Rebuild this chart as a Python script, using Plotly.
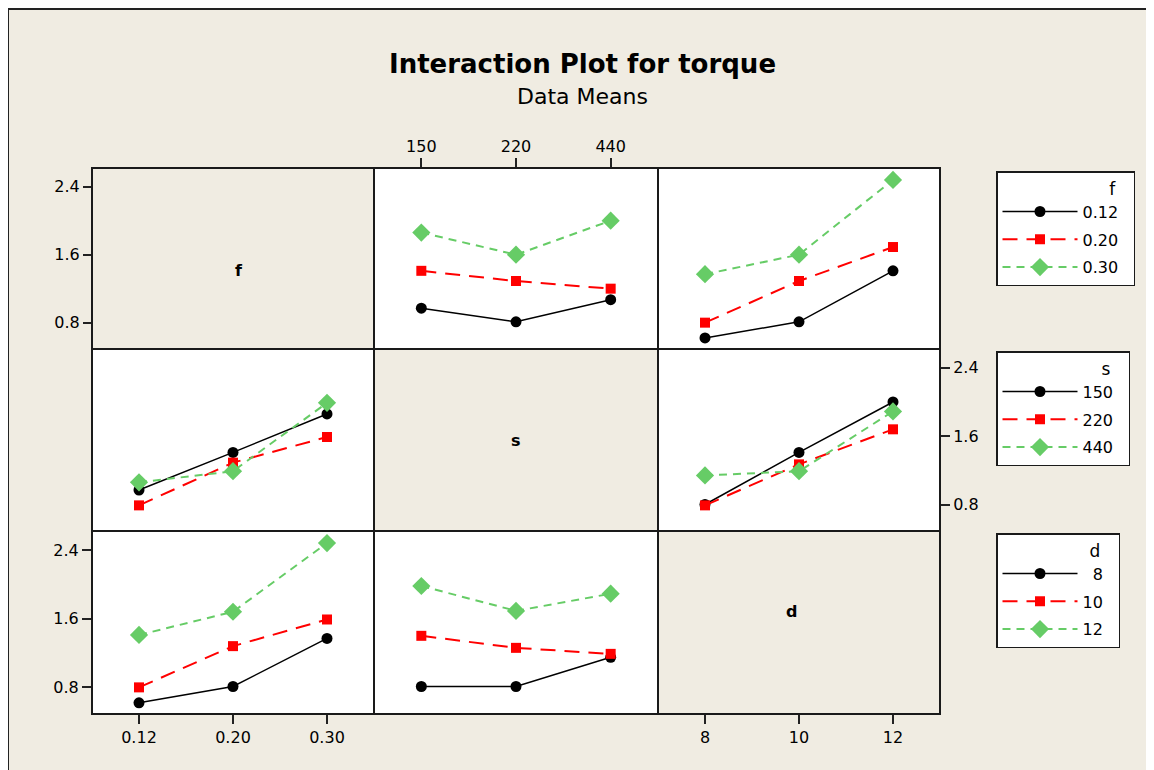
import plotly.graph_objects as go

OFF = 8  # the page body adds an 8px margin; reference pixels are shifted by this
W, H = 1154 + OFF, 770 + OFF

f_levels = ["0.12", "0.20", "0.30"]
s_levels = ["150", "220", "440"]
d_levels = ["8", "10", "12"]

PAD = "\u00a0\u00a0"
f_names = [v + PAD for v in f_levels]
s_names = [v + PAD for v in s_levels]
d_names = ["\u20078" + PAD, "10" + PAD, "12" + PAD]

# mean torque, one list per level of the trace factor, across levels of the x factor
f_vs_s = [[0.97, 0.81, 1.07], [1.41, 1.29, 1.20], [1.86, 1.60, 2.00]]
f_vs_d = [[0.62, 0.81, 1.41], [0.80, 1.29, 1.69], [1.37, 1.60, 2.48]]
s_vs_f = [[0.97, 1.41, 1.86], [0.79, 1.29, 1.59], [1.06, 1.19, 1.99]]
s_vs_d = [[0.80, 1.41, 2.00], [0.79, 1.27, 1.68], [1.14, 1.19, 1.89]]
d_vs_f = [[0.62, 0.81, 1.37], [0.80, 1.28, 1.59], [1.41, 1.68, 2.48]]
d_vs_s = [[0.81, 0.81, 1.15], [1.40, 1.26, 1.19], [1.98, 1.69, 1.89]]

y_ticks = [0.8, 1.6, 2.4]
y_range = [0.49, 2.62]

styles = [
    dict(color="black", dash="solid", symbol="circle", size=11, width=1.5),
    dict(color="#FF0000", dash="15px,9px", symbol="square", size=10, width=2),
    dict(color="#66CC66", dash="8px,6px", symbol="diamond", size=14, width=2),
]

cols_px = [(92, 374), (374, 658), (658, 940)]
rows_px = [(168, 349), (349, 531), (531, 714)]


def px_x(p):
    return (p - OFF) / W


def px_y(p):
    return 1 - (p - OFF) / H


def xdom(c):
    return [px_x(cols_px[c][0]), px_x(cols_px[c][1])]


def ydom(r):
    return [px_y(rows_px[r][1]), px_y(rows_px[r][0])]


FONT = "DejaVu Sans"

# panels: (row, col, x levels, series, names, legend id, showlegend)
panels = [
    (0, 1, s_levels, f_vs_s, f_names, "legend", False),
    (0, 2, d_levels, f_vs_d, f_names, "legend", True),
    (1, 0, f_levels, s_vs_f, s_names, "legend2", False),
    (1, 2, d_levels, s_vs_d, s_names, "legend2", True),
    (2, 0, f_levels, d_vs_f, d_names, "legend3", True),
    (2, 1, s_levels, d_vs_s, d_names, "legend3", False),
]

fig = go.Figure()
layout = {}
for i, (r, c, xl, series, names, leg, show) in enumerate(panels):
    n = i + 1
    xa = "x" if n == 1 else f"x{n}"
    ya = "y" if n == 1 else f"y{n}"
    for k, vals in enumerate(series):
        st = styles[k]
        fig.add_trace(go.Scatter(
            x=xl, y=vals, xaxis=xa, yaxis=ya, mode="lines+markers",
            name=names[k], legend=leg, showlegend=show, legendgroup=leg + str(k),
            line=dict(color=st["color"], dash=st["dash"], width=st["width"]),
            marker=dict(symbol=st["symbol"], size=st["size"], color=st["color"]),
        ))
    xkey = "xaxis" if n == 1 else f"xaxis{n}"
    ykey = "yaxis" if n == 1 else f"yaxis{n}"
    xax = dict(domain=xdom(c), anchor=ya, type="category", categoryarray=xl,
               range=[-0.5, 2.5], showgrid=False, zeroline=False, showline=False,
               ticks="", showticklabels=False,
               tickfont=dict(family=FONT, size=16, color="black"))
    yax = dict(domain=ydom(r), anchor=xa, range=y_range, showgrid=False,
               zeroline=False, showline=False, ticks="", showticklabels=False,
               tickvals=y_ticks, ticktext=[f"{v:.1f}" for v in y_ticks],
               tickfont=dict(family=FONT, size=16, color="black"))
    tick_on = dict(ticks="outside", ticklen=9, tickwidth=2, tickcolor="#222222",
                   showticklabels=True)
    if (r, c) == (0, 1):
        xax.update(tick_on, side="top")
        yax.update(tick_on, anchor="free", position=px_x(92), side="left")
    if (r, c) == (1, 2):
        yax.update(tick_on, side="right")
        xax.update(tick_on, anchor="free", position=px_y(714), side="bottom")
    if (r, c) == (2, 0):
        xax.update(tick_on, side="bottom")
        yax.update(tick_on, side="left")
    layout[xkey] = xax
    layout[ykey] = yax

shapes = []
# outer frame line (page margin supplies the white strip)
shapes.append(dict(type="line", xref="paper", yref="paper", x0=0, x1=1, y0=px_y(9), y1=px_y(9),
                   line=dict(color="#222222", width=2)))
shapes.append(dict(type="line", xref="paper", yref="paper", x0=px_x(8), x1=px_x(8), y0=0, y1=px_y(9),
                   line=dict(color="#222222", width=2)))
for r in range(3):
    for c in range(3):
        shapes.append(dict(type="rect", xref="paper", yref="paper",
                           x0=xdom(c)[0], x1=xdom(c)[1], y0=ydom(r)[0], y1=ydom(r)[1],
                           line=dict(color="#1a1a1a", width=2), layer="above"))

annotations = [
    dict(text="<b>Interaction Plot for torque</b>", x=px_x(582), y=px_y(64), xref="paper", yref="paper",
         showarrow=False, font=dict(family=FONT, size=26, color="black"), xanchor="center", yanchor="middle"),
    dict(text="Data Means", x=px_x(582), y=px_y(97), xref="paper", yref="paper",
         showarrow=False, font=dict(family=FONT, size=22, color="black"), xanchor="center", yanchor="middle"),
]
for lab, r in zip(["f", "s", "d"], range(3)):
    annotations.append(dict(text=f"<b>{lab}</b>", xref="paper", yref="paper",
                            x=sum(xdom(r)) / 2, y=sum(ydom(r)) / 2, showarrow=False,
                            font=dict(family=FONT, size=16, color="black")))


def legend_cfg(title, top_px):
    return dict(x=px_x(996), y=px_y(top_px + 2), xanchor="left", yanchor="top",
                bgcolor="white", bordercolor="#1a1a1a", borderwidth=1.5,
                font=dict(family=FONT, size=16, color="black"),
                title=dict(text=title + "\u00a0\u00a0\u00a0", side="top right",
                           font=dict(family=FONT, size=17, color="black")),
                tracegroupgap=4, itemwidth=75)


layout.update(
    width=W, height=H, margin=dict(l=0, r=0, t=0, b=0),
    paper_bgcolor="#F0ECE2", plot_bgcolor="white",
    shapes=shapes, annotations=annotations,
    legend=legend_cfg("f", 169), legend2=legend_cfg("s", 349), legend3=legend_cfg("d", 531),
    font=dict(family=FONT, color="black"),
)
fig.update_layout(**layout)
fig.write_html("out.html")
